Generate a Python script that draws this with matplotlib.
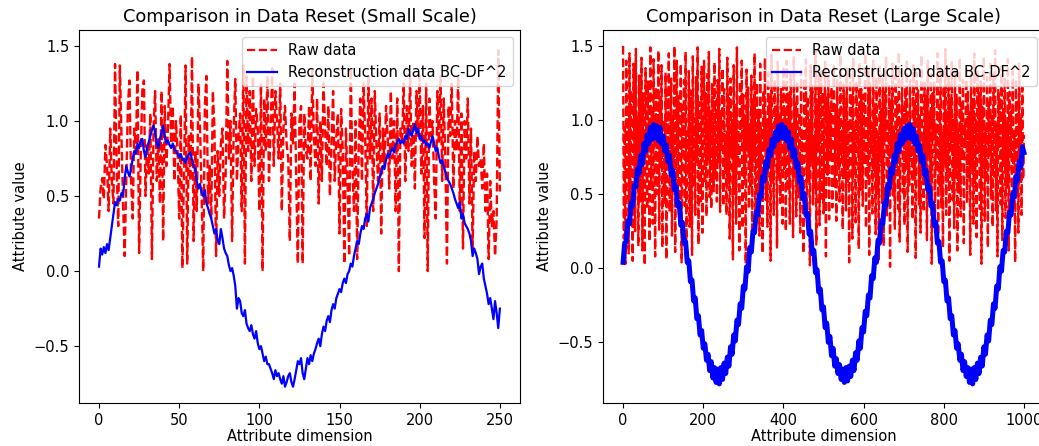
import numpy as np
import matplotlib
matplotlib.use("Agg")
import matplotlib.pyplot as plt

# Small scale: 251 attribute dimensions (values in hundredths)
small_raw = [
    35, 55, 62, 48, 84, 70, 40, 95, 60, 45,
    138, 70, 30, 137, 90, 45, 10, 60, 110, 127,
    60, 35, 95, 80, 134, 12, 75, 120, 127, 50,
    85, 65, 105, 8, 95, 120, 60, 88, 45, 120,
    20, 110, 70, 95, 138, 85, 110, 60, 100, 80,
    35, 104, 2, 65, 137, 5, 90, 60, 143, 20,
    80, 40, 125, 95, 50, 0, 110, 130, 45, 70,
    35, 120, 95, 10, 80, 50, 85, 95, 35, 65,
    140, 75, 100, 20, 95, 128, 60, 90, 105, 40,
    137, 5, 130, 80, 120, 60, 130, 70, 108, 95,
    40, 125, 0, 115, 80, 130, 60, 95, 135, 70,
    120, 100, 75, 125, 40, 95, 110, 85, 75, 20,
    105, 85, 125, 60, 5, 100, 110, 5, 105, 80,
    75, 110, 60, 134, 90, 70, 115, 45, 100, 60,
    125, 95, 70, 110, 50, 85, 120, 60, 90, 105,
    25, 108, 80, 5, 95, 60, 10, 135, 70, 40,
    100, 8, 85, 115, 60, 125, 90, 30, 130, 75,
    115, 40, 120, 85, 60, 105, 25, 95, 70, 110,
    90, 55, 120, 75, 100, 40, 115, 0, 95, 85,
    125, 60, 110, 80, 130, 70, 100, 55, 120, 90,
    130, 65, 110, 22, 125, 0, 115, 90, 100, 60,
    35, 120, 85, 130, 60, 115, 75, 5, 110, 90,
    125, 55, 100, 80, 130, 40, 105, 15, 100, 75,
    115, 45, 95, 15, 80, 60, 90, 70, 75, 55,
    85, 40, 65, 8, 60, 30, 40, 10, 35, 147,
    53,
]
small_rec = [
    3, 15, 11, 16, 12, 18, 14, 22, 30, 38,
    46, 44, 48, 47, 52, 50, 62, 70, 66, 63,
    68, 75, 80, 78, 85, 82, 87, 88, 80, 76,
    82, 86, 90, 94, 97, 92, 85, 82, 88, 92,
    97, 90, 85, 87, 84, 82, 85, 81, 80, 78,
    76, 78, 74, 75, 72, 76, 78, 79, 74, 70,
    68, 60, 55, 58, 52, 50, 54, 45, 42, 38,
    35, 30, 25, 28, 20, 18, 28, 22, 15, 12,
    10, 4, 0, 2, -3, -10, -25, -18, -20, -28,
    -30, -26, -35, -38, -40, -36, -42, -45, -40, -48,
    -52, -50, -55, -60, -57, -62, -62, -65, -68, -72,
    -66, -70, -68, -72, -75, -70, -77, -74, -70, -68,
    -74, -77, -72, -66, -60, -62, -58, -68, -72, -65,
    -58, -62, -56, -60, -55, -52, -48, -45, -50, -42,
    -37, -40, -33, -30, -34, -26, -22, -25, -18, -15,
    -12, -14, -8, -5, -8, -2, 0, 5, 3, 10,
    15, 20, 18, 25, 30, 28, 35, 38, 33, 42,
    45, 48, 52, 55, 58, 62, 66, 70, 68, 74,
    78, 76, 80, 82, 79, 84, 86, 88, 85, 87,
    85, 90, 88, 95, 92, 90, 94, 98, 92, 95,
    88, 90, 86, 87, 84, 85, 82, 86, 90, 85,
    80, 82, 76, 72, 74, 70, 66, 62, 60, 58,
    55, 52, 48, 45, 42, 46, 35, 38, 32, 30,
    28, 25, 20, 10, 15, 12, 8, -2, 3, 5,
    -5, -10, -15, -22, -18, -25, -32, -20, -28, -38,
    -25,
]

# Large scale: raw sampled every 2 dims, reconstruction every 4 dims
large_raw = [
    150, 20, 95, 3, 140, 60, 110, 10, 145, 35, 120, 70, 5, 138, 90, 25, 148, 55, 102, 15,
    130, 45, 85, 142, 12, 118, 66, 2, 135, 80, 40, 126, 97, 18, 149, 58, 108, 30, 141, 75,
    8, 122, 92, 50, 147, 26, 114, 68, 137, 14, 100, 82, 44, 132, 6, 119, 73, 145, 38, 88,
    128, 22, 104, 60, 150, 11, 96, 140, 52, 116, 33, 84, 138, 4, 110, 76, 127, 42, 146, 19,
    92, 63, 133, 28, 120, 86, 9, 143, 55, 101, 36, 129, 71, 149, 16, 112, 80, 45, 136, 24,
    98, 140, 57, 118, 35, 131, 74, 146, 48, 106, 40, 125, 88, 52, 139, 61, 113, 45, 127, 70,
    148, 38, 104, 82, 135, 42, 121, 66, 90, 36, 142, 58, 115, 20, 128, 75, 100, 6, 137, 50,
    110, 30, 149, 68, 93, 12, 126, 84, 140, 27, 117, 61, 103, 3, 134, 79, 122, 40, 97, 56,
    130, 18, 112, 72, 145, 34, 88, 125, 50, 107, 22, 138, 64, 95, 10, 120, 81, 142, 46, 100,
    28, 132, 70, 115, 5, 144, 58, 91, 36, 127, 78, 109, 14, 139, 62, 103, 44, 121, 85, 30,
    136, 67, 108, 25, 140, 52, 118, 90, 30, 131, 74, 97, 21, 143, 60, 112, 35, 126, 82, 48,
    105, 24, 133, 65, 94, 10, 128, 77, 141, 38, 116, 59, 100, 2, 137, 71, 123, 43, 89, 54,
    147, 16, 111, 80, 130, 29, 99, 134, 47, 119, 37, 92, 140, 8, 115, 63, 129, 33, 106, 73,
    122, 41, 96, 138, 55, 110, 32, 127, 69, 102, 45, 144, 76, 93, 26, 124, 61, 114, 39, 135,
    57, 100, 4, 131, 84, 118, 20, 142, 64, 95, 31, 126, 79, 108, 13, 139, 53, 121, 87, 42,
    117, 70, 145, 27, 103, 60, 133, 9, 125, 81, 98, 37, 140, 66, 111, 23, 129, 50, 91, 6,
    136, 72, 107, 44, 128, 15, 119, 86, 143, 34, 101, 58, 124, 1, 113, 77, 138, 49, 94, 26,
    130, 63, 115, 40, 146, 18, 99, 83, 134, 51, 109, 29, 122, 68, 141, 11, 105, 56, 127, 74,
    96, 33, 137, 62, 112, 7, 132, 85, 120, 43, 103, 24, 144, 67, 90, 38, 125, 57, 116, 19,
    140, 76, 104, 48, 131, 3, 118, 89, 126, 31, 97, 65, 145, 22, 110, 54, 135, 41, 92, 14,
    123, 71, 148, 36, 106, 59, 129, 5, 114, 80, 139, 46, 101, 27, 133, 62, 117, 12, 94, 52,
    142, 35, 111, 73, 127, 17, 98, 84, 136, 44, 120, 60, 105, 9, 131, 69, 114, 30, 145, 56,
    100, 21, 134, 78, 118, 40, 126, 3, 109, 66, 143, 32, 95, 58, 129, 14, 112, 75, 138, 47,
    104, 28, 131, 62, 147, 39, 97, 8, 121, 81, 115, 43, 136, 19, 108, 70, 128, 34, 99, 55,
    141, 12, 119, 77, 106, 41, 133, 65, 92, 4, 126, 59, 114, 24, 138, 71, 101, 36, 122, 60,
    90,
]
large_rec = [
    4, 17, 18, 32, 30, 44, 42, 56, 55, 67,
    64, 76, 70, 84, 79, 90, 84, 95, 87, 97,
    88, 96, 86, 95, 84, 89, 79, 83, 72, 76,
    63, 66, 53, 55, 42, 44, 29, 31, 17, 18,
    4, 5, -9, -8, -22, -20, -34, -32, -45, -42,
    -54, -51, -62, -58, -69, -63, -74, -67, -77, -68,
    -78, -67, -75, -64, -71, -60, -66, -53, -58, -45,
    -49, -35, -38, -24, -27, -12, -14, 1, -2, 14,
    11, 25, 24, 38, 36, 50, 48, 62, 59, 72,
    68, 80, 76, 87, 82, 92, 86, 96, 88, 97,
    88, 95, 86, 92, 81, 87, 75, 80, 68, 71,
    58, 61, 47, 50, 36, 37, 23, 25, 10, 12,
    -3, -1, -16, -14, -28, -26, -40, -37, -50, -46,
    -59, -54, -66, -61, -71, -65, -75, -68, -77, -67,
    -76, -66, -73, -62, -69, -57, -62, -49, -54, -40,
    -43, -29, -32, -18, -20, -5, -7, 7,
    4, 19,
    17, 32, 30, 44, 42, 56, 54, 67, 64, 76,
    72, 84, 79, 90, 84, 94, 87, 96, 88, 97,
    87, 94, 84, 89, 79, 83, 72, 76, 63, 66,
    53, 55, 42, 44, 29, 31, 17, 18, 4, 5,
    -9, -8, -22, -20, -34, -32, -45, -42, -54, -51,
    -62, -58, -69, -63, -73, -67, -77, -68, -78, -67,
    -75, -64, -71, -60, -66, -53, -58, -45, -49, -35,
    -38, -24, -27, -12, -14, 1, -2,
    12, 11, 25, 24, 38, 36, 50, 48, 62, 59,
    72, 68, 82, 78,
]

x_small = np.arange(len(small_raw))
x_large_raw = np.arange(len(large_raw)) * 2
x_large_rec = np.arange(len(large_rec)) * 4

fig = plt.figure(figsize=(10.39, 4.46), dpi=100)
ax1 = fig.add_axes([0.076, 0.096, 0.4244, 0.837])
ax2 = fig.add_axes([0.5804, 0.096, 0.4244, 0.837])

panels = [
    (ax1, x_small, small_raw, x_small, small_rec, "Small Scale", (-12.5, 262.5), (-0.88, 1.607), 1.6),
    (ax2, x_large_raw, large_raw, x_large_rec, large_rec, "Large Scale", (-50, 1050), (-0.91, 1.608), 3.6),
]
for ax, xr, raw, xc, rec, name, xlim, ylim, rec_lw in panels:
    ax.plot(xr, np.array(raw) / 100, "r--", lw=1.7, label="Raw data")
    ax.plot(xc, np.array(rec) / 100, "b-", lw=rec_lw, label="Reconstruction data BC-DF^2")
    ax.set_xlim(*xlim)
    ax.set_ylim(*ylim)
    ax.set_title(f"Comparison in Data Reset ({name})", fontsize=12.8)
    ax.set_xlabel("Attribute dimension", fontsize=10.5, labelpad=1)
    ax.set_ylabel("Attribute value", fontsize=10.5)
    ax.tick_params(labelsize=10.5)
    leg = ax.legend(loc="upper right", fontsize=10.5)
    for h in leg.get_lines():
        h.set_linewidth(1.6)

fig.savefig("out.png", dpi=100)
